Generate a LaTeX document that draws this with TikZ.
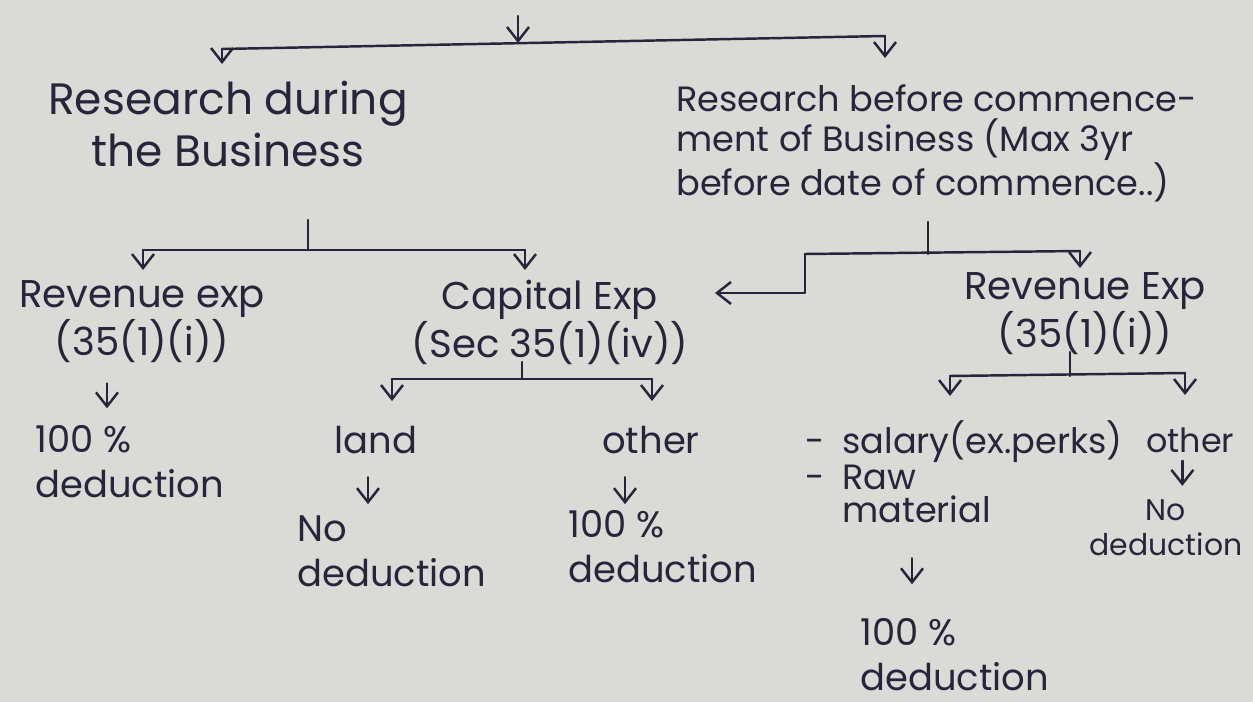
\documentclass[tikz,border=0pt]{standalone}
\usepackage{fontspec}
\setmainfont{Poppins}
\usetikzlibrary{arrows.meta, calc, positioning}
\definecolor{paper}{HTML}{DADAD6}
\definecolor{ink}{HTML}{25263A}
\tikzset{
  note/.style  = {text=ink, font=\fontsize{21}{25.6}\selectfont, inner sep=0pt, align=center},
  notel/.style = {note, align=left, anchor=west},
  wire/.style  = {draw=ink, line width=1.4pt, line cap=round, line join=round},
  drop/.style  = {wire, -{Straight Barb[length=2.8mm, width=4.4mm]}},
}

\begin{document}
\begin{tikzpicture}[x=0.02cm, y=-0.02cm]
  \fill[paper] (0,0) rectangle (1253,702);
  \useasboundingbox (0,0) rectangle (1253,702);
  % headings
  \node[note, font=\fontsize{25}{29.5}\selectfont] (during) at (228,124) {Research during\\the Business};
  \node[notel, font=\fontsize{20}{22.8}\selectfont] (before) at (676,143) {Research before commence-\\ment of Business (Max 3yr\\before date of commence..)};
  % second level
  \node[note, font=\fontsize{22}{25.6}\selectfont] (revL) at (142,322) {Revenue exp\\(35(1)(i))};
  \node[note, font=\fontsize{22}{25.6}\selectfont] (capN) at (550,322) {Capital Exp\\(Sec 35(1)(iv))};
  \node[note, font=\fontsize{22}{22.8}\selectfont] (revR) at (1085,314) {Revenue Exp\\(35(1)(i))};
  % third level
  \node[notel] (pctL) at (35,462) {100 \%\\deduction};
  \node[note] (land) at (376,440) {land};
  \node[note] (othA) at (651,440) {other};
  \node[notel] (noA) at (297,551) {No\\deduction};
  \node[notel] (pctA) at (568,547) {100 \%\\deduction};
  \node[notel, font=\fontsize{20}{19}\selectfont] (list) at (805,472) {-\enspace salary(ex.perks)\\-\enspace Raw\\\phantom{-\enspace}material};
  \node[notel, font=\fontsize{19}{20}\selectfont] (othR) at (1146,440) {other};
  \node[note, font=\fontsize{17}{20}\selectfont] (noR) at (1166,528) {No\\deduction};
  \node[notel] (pctR) at (860,655) {100 \%\\deduction};
  % top split
  \coordinate (topIn) at (518,16);
  \coordinate (topL) at (222,49);
  \coordinate (topR) at (885,36);
  \draw[drop] (topIn) -- (518,43);
  \draw[wire] (topL) -- (topR);
  \draw[drop] (topL) -- ++(0,15);
  \draw[drop] (topR) -- ++(0,22);
  % during the business
  \coordinate (durStem) at (308,220);
  \coordinate (durL) at (143,250);
  \coordinate (durR) at (525,250);
  \draw[wire] (durStem) -- (durStem |- durL);
  \draw[wire] (durL) -- (durR);
  \draw[drop] (durL) -- ++(0,20);
  \draw[drop] (durR) -- ++(0,20);
  % before commencement
  \coordinate (befStem) at (928,222);
  \coordinate (befL) at (805,254);
  \coordinate (befR) at (1080,251);
  \draw[wire] (befStem) -- (befStem |- befL);
  \draw[wire] (befL) -- (befR);
  \draw[drop] (befR) -- ++(0,17);
  \draw[drop] (befL) -- ++(0,39) -- ++(-90,0);
  % revenue exp (during)
  \draw[drop] (revL.south) ++(-35,20) -- ++(0,25);
  % capital exp
  \coordinate (capStem) at (522,362);
  \coordinate (capL) at (392,379);
  \coordinate (capR) at (652,379);
  \draw[wire] (capStem) -- (capStem |- capL);
  \draw[wire] (capL) -- (capR);
  \draw[drop] (capL) -- ++(0,22);
  \draw[drop] (capR) -- ++(0,22);
  \draw[drop] (land.south) ++(-8,23) -- ++(0,27);
  \draw[drop] (othA.south) ++(-26,23) -- ++(0,27);
  % revenue exp (before)
  \coordinate (rrStem) at (1070,352);
  \coordinate (rrL) at (950,376);
  \coordinate (rrR) at (1185,373);
  \draw[wire] (rrStem) -- (rrStem |- rrL);
  \draw[wire] (rrL) -- (rrR);
  \draw[drop] (rrL) -- ++(0,20);
  \draw[drop] (rrR) -- ++(0,22);
  \draw[drop] (list.south west) ++(107,35) -- ++(0,26);
  \draw[drop] (othR.south) ++(-8,8) -- ++(0,25);
\end{tikzpicture}
\end{document}
